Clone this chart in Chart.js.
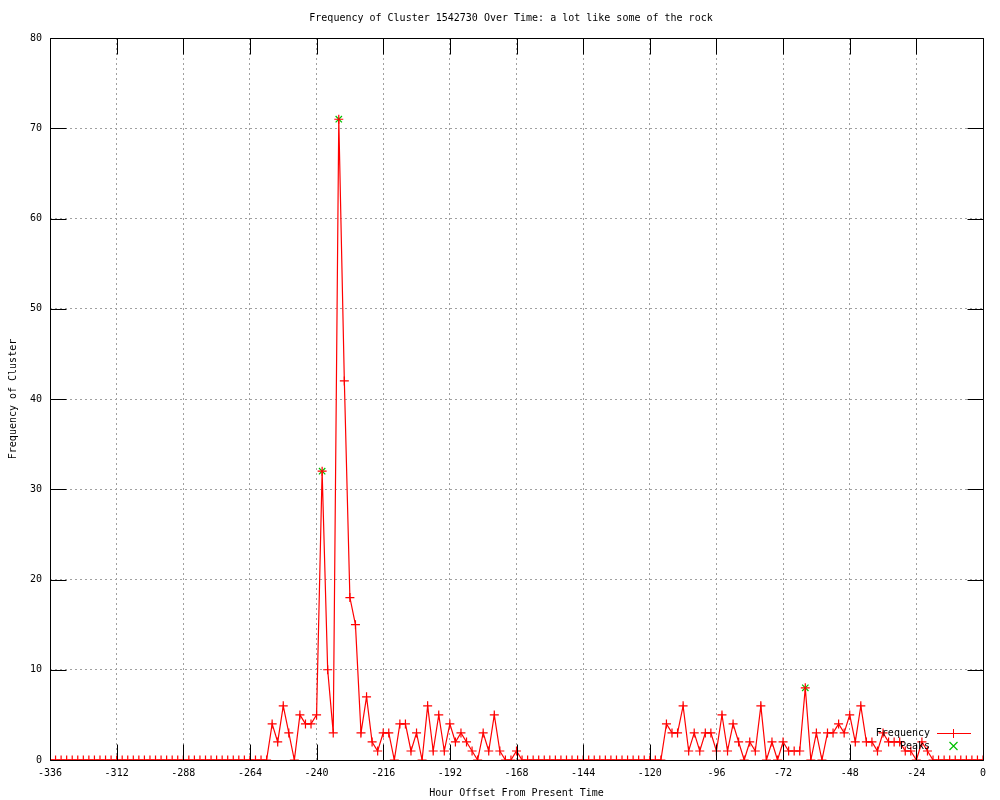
<!DOCTYPE html>
<html>
<head>
<meta charset="utf-8">
<script src="https://cdn.jsdelivr.net/npm/chart.js@4"></script>
<style>
html,body{margin:0;padding:0;background:#fff;}
#wrap{width:1000px;height:800px;}
</style>
</head>
<body>
<div id="wrap"><canvas id="c" width="1000" height="800"></canvas></div>
<script>
const chartTitle = "Frequency of Cluster 1542730 Over Time: a lot like some of the rock";
const xTitle = "Hour Offset From Present Time";
const yTitle = "Frequency of Cluster";

const hours = [
-336,-334,-332,-330,-328,-326,-324,-322,-320,-318,-316,-314,-312,-310,-308,-306,-304,-302,-300,-298,
-296,-294,-292,-290,-288,-286,-284,-282,-280,-278,-276,-274,-272,-270,-268,-266,-264,-262,-260,-258,
-256,-254,-252,-250,-248,-246,-244,-242,-240,-238,-236,-234,-232,-230,-228,-226,-224,-222,-220,-218,
-216,-214,-212,-210,-208,-206,-204,-202,-200,-198,-196,-194,-192,-190,-188,-186,-184,-182,-180,-178,
-176,-174,-172,-170,-168,-166,-164,-162,-160,-158,-156,-154,-152,-150,-148,-146,-144,-142,-140,-138,
-136,-134,-132,-130,-128,-126,-124,-122,-120,-118,-116,-114,-112,-110,-108,-106,-104,-102,-100,-98,
-96,-94,-92,-90,-88,-86,-84,-82,-80,-78,-76,-74,-72,-70,-68,-66,-64,-62,-60,-58,
-56,-54,-52,-50,-48,-46,-44,-42,-40,-38,-36,-34,-32,-30,-28,-26,-24,-22,-20,-18,
-16,-14,-12,-10,-8,-6,-4,-2,0
];

const frequency = [
0,0,0,0,0,0,0,0,0,0,0,0,0,0,0,0,0,0,0,0,
0,0,0,0,0,0,0,0,0,0,0,0,0,0,0,0,0,0,0,0,
4,2,6,3,0,5,4,4,5,32,10,3,71,42,18,15,3,7,2,1,
3,3,0,4,4,1,3,0,6,1,5,1,4,2,3,2,1,0,3,1,
5,1,0,0,1,0,0,0,0,0,0,0,0,0,0,0,0,0,0,0,
0,0,0,0,0,0,0,0,0,0,0,4,3,3,6,1,3,1,3,3,
1,5,1,4,2,0,2,1,6,0,2,0,2,1,1,1,8,0,3,0,
3,3,4,3,5,2,6,2,2,1,3,2,2,2,1,1,0,2,1,0,
0,0,0,0,0,0,0,0,0
];

const peakHours = [-238, -232, -64];
const peakValues = [32, 71, 8];

const xTicks = [-336,-312,-288,-264,-240,-216,-192,-168,-144,-120,-96,-72,-48,-24,0];
const yTicks = [0,10,20,30,40,50,60,70,80];

const FONT = '"DejaVu Sans Mono", monospace';
const RED = '#ff0000';
const GREEN = '#00c000';

const freqData = hours.map((h, i) => ({x: h, y: frequency[i]}));
const peakData = peakHours.map((h, i) => ({x: h, y: peakValues[i]}));

const framePlugin = {
  id: 'frame',
  afterDatasetsDraw(chart) {
    const ctx = chart.ctx;
    const ca = chart.chartArea;
    const xs = chart.scales.x, ys = chart.scales.y;
    const L = Math.round(ca.left) + 0.5, R = Math.round(ca.right) + 0.5;
    const T = Math.round(ca.top) + 0.5, B = Math.round(ca.bottom) + 0.5;
    const tl = 16;
    ctx.save();
    ctx.globalAlpha = 1;
    ctx.strokeStyle = '#000000';
    ctx.lineWidth = 1;
    ctx.setLineDash([]);
    ctx.beginPath();
    ctx.rect(L, T, R - L, B - T);
    xTicks.forEach(v => {
      const px = Math.round(xs.getPixelForValue(v)) + 0.5;
      ctx.moveTo(px, B); ctx.lineTo(px, B - tl);
      ctx.moveTo(px, T); ctx.lineTo(px, T + tl);
    });
    yTicks.forEach(v => {
      const py = Math.round(ys.getPixelForValue(v)) + 0.5;
      ctx.moveTo(L, py); ctx.lineTo(L + tl, py);
      ctx.moveTo(R, py); ctx.lineTo(R - tl, py);
    });
    ctx.stroke();
    ctx.restore();

    // title
    ctx.save();
    ctx.globalAlpha = 1;
    ctx.fillStyle = '#000000';
    ctx.font = '10px ' + FONT;
    ctx.textAlign = 'center';
    ctx.textBaseline = 'middle';
    ctx.fillText(chartTitle, 511, 18);

    // legend text
    ctx.textAlign = 'right';
    ctx.fillText('Frequency', 930, 733);
    ctx.fillText('Peaks', 930, 746);
    ctx.restore();

    // legend samples
    ctx.save();
    ctx.globalAlpha = 1;
    ctx.fillStyle = '#ff0000';
    ctx.fillRect(937, 733, 34, 1);
    ctx.fillRect(953, 729, 1, 9);
    ctx.restore();

    ctx.save();
    ctx.globalAlpha = 1;
    ctx.setLineDash([]);
    ctx.lineWidth = 1.2;
    ctx.strokeStyle = GREEN;
    ctx.beginPath();
    ctx.moveTo(949.5, 742); ctx.lineTo(957.5, 750);
    ctx.moveTo(957.5, 742); ctx.lineTo(949.5, 750);
    ctx.stroke();
    ctx.restore();
  }
};

new Chart(document.getElementById('c'), {
  type: 'line',
  data: {
    datasets: [
      {
        label: 'Frequency',
        data: freqData,
        borderColor: RED,
        backgroundColor: RED,
        borderWidth: 1.2,
        tension: 0,
        pointStyle: 'cross',
        pointRadius: 4.5,
        pointBorderColor: RED,
        pointBorderWidth: 1.2,
        fill: false
      },
      {
        label: 'Peaks',
        data: peakData,
        showLine: false,
        borderColor: GREEN,
        backgroundColor: GREEN,
        pointStyle: 'crossRot',
        pointRadius: 4.5,
        pointBorderColor: GREEN,
        pointBorderWidth: 1.2
      }
    ]
  },
  options: {
    responsive: false,
    animation: false,
    devicePixelRatio: 1,
    layout: { padding: { top: 38, right: 17, left: 0, bottom: 0 } },
    plugins: {
      legend: { display: false },
      title: { display: false },
      tooltip: { enabled: false }
    },
    scales: {
      x: {
        type: 'linear',
        min: -336,
        max: 0,
        afterFit(s) { s.height = 40; },
        afterBuildTicks(s) { s.ticks = xTicks.map(v => ({value: v})); },
        ticks: {
          color: '#000',
          font: { family: FONT, size: 10 },
          padding: 7,
          maxRotation: 0,
          autoSkip: false,
          callback: v => String(v)
        },
        grid: {
          color: '#a0a0a0',
          lineWidth: 1,
          drawTicks: false
        },
        border: { display: false, dash: [2, 3] },
        title: {
          display: true,
          text: xTitle,
          color: '#000',
          font: { family: FONT, size: 10 },
          padding: { top: 0, bottom: 1 }
        }
      },
      y: {
        min: 0,
        max: 80,
        afterFit(s) { s.width = 50; },
        afterBuildTicks(s) { s.ticks = yTicks.map(v => ({value: v})); },
        ticks: {
          color: '#000',
          font: { family: FONT, size: 10 },
          padding: 8,
          autoSkip: false
        },
        grid: {
          color: '#a0a0a0',
          lineWidth: 1,
          drawTicks: false
        },
        border: { display: false, dash: [2, 3] },
        title: {
          display: true,
          text: yTitle,
          color: '#000',
          font: { family: FONT, size: 10 },
          padding: { top: 7, bottom: 0 }
        }
      }
    }
  },
  plugins: [framePlugin]
});
</script>
</body>
</html>
